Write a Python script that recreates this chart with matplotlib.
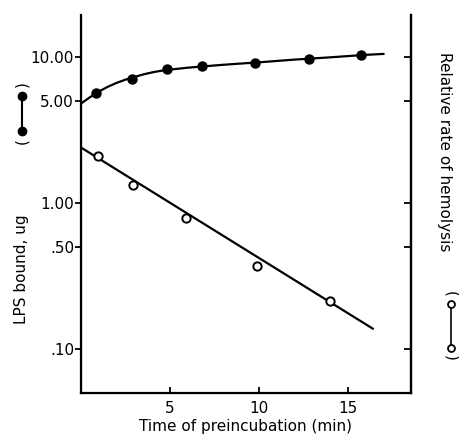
import matplotlib
matplotlib.use("Agg")
import matplotlib.pyplot as plt
from matplotlib.lines import Line2D

# LPS bound (filled circles)
lps_time = [0.85, 2.85, 4.85, 6.8, 9.8, 12.8, 15.75]
lps_bound = [5.64, 7.03, 8.24, 8.63, 9.14, 9.69, 10.3]

# smooth fitted curve through the LPS points
lps_fit_time = [0, 0.5, 1, 1.5, 2, 2.5, 3, 3.5, 4, 4.5, 5, 6, 7, 8, 10, 12, 14, 16, 17]
lps_fit_val = [4.8, 5.3, 5.8, 6.25, 6.65, 7.0, 7.3, 7.6, 7.85, 8.05, 8.2,
               8.45, 8.65, 8.85, 9.2, 9.6, 9.95, 10.35, 10.5]

# relative rate of hemolysis (open circles)
hem_time = [0.95, 2.95, 5.9, 9.9, 14.0]
hem_rate = [2.09, 1.33, 0.785, 0.37, 0.214]
hem_fit_time = [0, 16.4]
hem_fit_val = [2.40, 0.138]

y_ticks = [10, 5, 1, 0.5, 0.1]
y_ticklabels = ["10.00", "5.00", "1.00", ".50", ".10"]
x_ticks = [5, 10, 15]

W, H = 460, 436
fig = plt.figure(figsize=(W / 100, H / 100), dpi=100)
ax = fig.add_axes([81 / W, 1 - 393 / H, 330 / W, 378 / H])

ax.plot(lps_fit_time, lps_fit_val, color="black", lw=1.6, zorder=2)
ax.plot(lps_time, lps_bound, "o", color="black", ms=6.5, zorder=3)
ax.plot(hem_fit_time, hem_fit_val, color="black", lw=1.6, zorder=2)
ax.plot(hem_time, hem_rate, "o", mfc="white", mec="black", mew=1.4, ms=6, zorder=3)

ax.set_yscale("log")
ax.set_ylim(0.05, 19.4)
ax.set_xlim(0, 18.55)
ax.set_yticks(y_ticks)
ax.set_yticklabels(y_ticklabels)
ax.yaxis.set_minor_locator(plt.NullLocator())
ax.set_xticks(x_ticks)
ax.tick_params(axis="y", direction="out", length=4, width=1.3, pad=1, labelsize=11)
ax.tick_params(axis="x", direction="in", length=4, width=1.3, pad=6, labelsize=11)
ax.set_xlabel("Time of preincubation (min)", fontsize=11, labelpad=2)

for s in ["left", "bottom", "right"]:
    ax.spines[s].set_linewidth(1.6)
ax.spines["top"].set_visible(False)

ax2 = ax.twinx()
ax2.set_yscale("log")
ax2.set_ylim(ax.get_ylim())
ax2.set_yticks(y_ticks)
ax2.set_yticklabels([])
ax2.yaxis.set_minor_locator(plt.NullLocator())
ax2.tick_params(axis="y", direction="in", length=5, width=1.3)
ax2.spines["right"].set_linewidth(1.6)
ax2.spines["top"].set_visible(False)

# left axis label and filled-circle key (reads bottom to top)
fig.text(22 / W, 1 - 269 / H, "LPS bound, ug", rotation=90, fontsize=11,
         ha="center", va="center")
fig.text(22 / W, 1 - 141 / H, "(", rotation=90, fontsize=11, ha="center", va="center")
fig.text(22 / W, 1 - 84 / H, ")", rotation=90, fontsize=11, ha="center", va="center")
fig.add_artist(Line2D([22 / W, 22 / W], [1 - 96 / H, 1 - 131 / H],
                      transform=fig.transFigure, color="black", lw=1.5,
                      marker="o", ms=6))

# right axis label and open-circle key (reads top to bottom)
fig.text(445 / W, 1 - 52 / H, "Relative rate of hemolysis", rotation=270,
         fontsize=11, ha="center", va="top")
fig.text(451 / W, 1 - 294 / H, "(", rotation=270, fontsize=11, ha="center", va="center")
fig.text(451 / W, 1 - 358 / H, ")", rotation=270, fontsize=11, ha="center", va="center")
fig.add_artist(Line2D([451 / W, 451 / W], [1 - 304 / H, 1 - 348 / H],
                      transform=fig.transFigure, color="black", lw=1.2,
                      marker="o", ms=5, mfc="white", mec="black", mew=1.3))

fig.savefig("out.png", dpi=100)
